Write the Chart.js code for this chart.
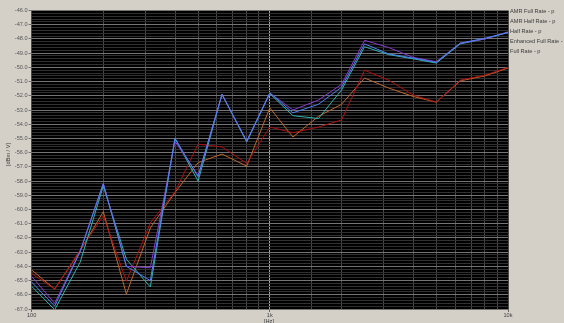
<!DOCTYPE html>
<html><head><meta charset="utf-8">
<script src="https://cdn.jsdelivr.net/npm/chart.js@4.4.1/dist/chart.umd.min.js"></script>
<style>
html,body{margin:0;padding:0;background:#d4d0c8;overflow:hidden;}
#wrap{position:relative;width:564px;height:323px;}
#legend{position:absolute;left:510px;top:6px;font:5.6px "Liberation Sans",Arial,sans-serif;color:#3a3a3a;white-space:nowrap;}
#legend div{height:10.1px;line-height:10px;}
.ttl{position:absolute;font:5.6px "Liberation Sans",Arial,sans-serif;color:#3a3a3a;white-space:nowrap;}
</style></head>
<body>
<div id="wrap">
<canvas id="c" width="564" height="323"></canvas>
<div id="legend"></div>
<div class="ttl" style="left:2px;top:160px;transform:translate(0,-50%) rotate(-90deg);transform-origin:6px 50%;">[dBm / V]</div>
<div class="ttl" style="left:264px;top:318px;">[Hz]</div>
</div>
<script>
const freqs = [100,125,160,200,250,315,400,500,630,800,1000,1250,1600,2000,2500,3150,4000,5000,6300,8000,10000];
const seriesNames = ["AMR Full Rate - p","AMR Half Rate - p","Half Rate - p","Enhanced Full Rate - p","Full Rate - p"];
const amrFull = [-64.7,-66.6,-62.9,-58.15,-64.0,-64.1,-55.2,-57.6,-51.9,-55.2,-51.8,-53.0,-52.3,-51.2,-48.1,-48.6,-49.3,-49.6,-48.3,-48.0,-47.5];
const amrHalf = [-64.25,-65.6,-62.9,-60.15,-65.95,-61.3,-58.8,-56.7,-56.1,-56.95,-52.85,-54.9,-53.45,-52.6,-50.75,-51.45,-52.05,-52.45,-50.95,-50.6,-50.05];
const halfRate = [-65.1,-66.8,-62.95,-58.2,-64.0,-65.0,-55.0,-57.7,-51.9,-55.2,-51.8,-53.2,-52.6,-51.4,-48.35,-49.05,-49.35,-49.65,-48.3,-47.95,-47.55];
const enhFull = [-65.4,-67.05,-63.7,-58.35,-63.5,-65.45,-55.0,-58.0,-51.9,-55.25,-51.85,-53.4,-53.6,-51.6,-48.55,-49.1,-49.4,-49.7,-48.35,-48.0,-47.55];
const fullRate = [-64.5,-65.6,-62.85,-60.45,-65.05,-60.95,-58.75,-55.4,-55.6,-56.75,-54.2,-54.6,-54.2,-53.7,-50.2,-50.9,-51.95,-52.45,-50.9,-50.55,-50.0];
const xTickLabels = {100:"100",1000:"1k",10000:"10k"};
const yMin = -67, yMax = -46;

const colors = ["#8a3cd0","#c0682a","#4f82f2","#2fb4b0","#b01010"];
const allSeries = [amrFull, amrHalf, halfRate, enhFull, fullRate];
const drawOrder = [2,0,3,4,1];

const leg = document.getElementById('legend');
seriesNames.forEach(n => { const d = document.createElement('div'); d.textContent = n; leg.appendChild(d); });

const datasets = allSeries.map((s,i) => ({
  label: seriesNames[i],
  data: freqs.map((f,j) => ({x:f, y:s[j]})),
  borderColor: colors[i],
  backgroundColor: colors[i],
  borderWidth: 1,
  pointRadius: 0,
  tension: 0,
  fill: false,
  order: drawOrder.indexOf(i)
}));

const bgPlugin = {
  id:'bg',
  beforeDraw(chart){
    const {ctx, chartArea:a} = chart;
    ctx.save(); ctx.fillStyle = '#000'; ctx.fillRect(a.left, a.top, a.right-a.left, a.bottom-a.top); ctx.restore();
  }
};
const isInt = v => Math.abs(v - Math.round(v)) < 1e-6;

new Chart(document.getElementById('c'), {
  type:'line',
  data:{datasets},
  plugins:[bgPlugin],
  options:{
    responsive:false, animation:false, devicePixelRatio:1,
    layout:{padding:{top:10.5,right:56,left:0,bottom:0}},
    plugins:{legend:{display:false}, tooltip:{enabled:false}},
    scales:{
      x:{
        type:'logarithmic', min:100, max:10000,
        afterFit(s){ s.height = 14; },
        border:{display:false},
        grid:{
          color: c => (c.tick && c.tick.value === 1000) ? '#a8a8a8' : '#484848',
          tickColor: c => (c.tick && xTickLabels[c.tick.value]) ? '#666' : 'rgba(0,0,0,0)',
          tickLength:3, lineWidth:1
        },
        ticks:{
          autoSkip:false, maxRotation:0, padding:0,
          font:{family:'"Liberation Sans", Arial, sans-serif', size:5.6},
          color:'#444',
          callback: v => xTickLabels[v] || ''
        }
      },
      y:{
        min:yMin, max:yMax,
        afterFit(s){ s.width = 31.6; },
        border:{display:false},
        grid:{
          color: c => (c.tick && isInt(c.tick.value)) ? '#747474' : '#303030',
          tickColor: c => (c.tick && isInt(c.tick.value)) ? '#777' : 'rgba(0,0,0,0)',
          tickLength:3, lineWidth:1
        },
        ticks:{
          stepSize:0.2, autoSkip:false, padding:1,
          font:{family:'"Liberation Sans", Arial, sans-serif', size:5.6},
          color:'#555',
          callback: v => isInt(v) ? Number(v).toFixed(1) : ''
        }
      }
    }
  }
});
</script>
</body></html>
